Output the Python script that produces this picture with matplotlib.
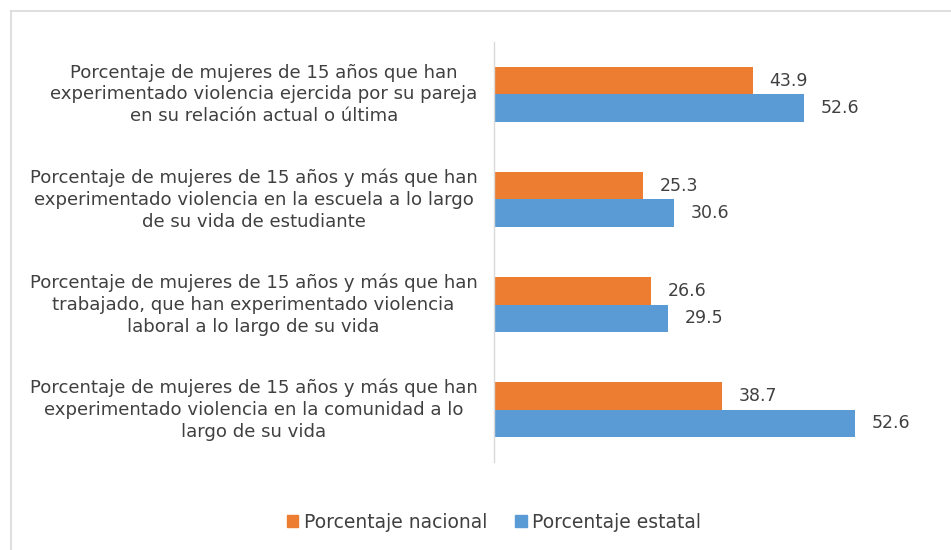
import matplotlib
matplotlib.use("Agg")
import matplotlib.pyplot as plt
from matplotlib.lines import Line2D
from matplotlib.patches import Patch
import numpy as np

plt.rcParams["font.family"] = ["DejaVu Sans"]

ORANGE = "#ED7D31"
BLUE = "#5B9BD5"
TXT = "#404040"

categories = [
    "Porcentaje de mujeres de 15 años que han\nexperimentado violencia ejercida por su pareja\nen su relación actual o última",
    "Porcentaje de mujeres de 15 años y más que han\nexperimentado violencia en la escuela a lo largo\nde su vida de estudiante",
    "Porcentaje de mujeres de 15 años y más que han\ntrabajado, que han experimentado violencia\nlaboral a lo largo de su vida",
    "Porcentaje de mujeres de 15 años y más que han\nexperimentado violencia en la comunidad a lo\nlargo de su vida",
]
nacional = [43.9, 25.3, 26.6, 38.7]
# bar lengths as drawn in the picture (last blue bar is longer than its label)
estatal = [52.6, 30.6, 29.5, 61.2]
nacional_labels = ["43.9", "25.3", "26.6", "38.7"]
estatal_labels = ["52.6", "30.6", "29.5", "52.6"]

fig = plt.figure(figsize=(9.51, 5.5), dpi=100)
ax = fig.add_axes([494 / 951, 1 - 462 / 550, 442 / 951, 420 / 550])

y = np.arange(len(categories))
h = 0.26
ax.barh(y - h / 2, nacional, h, color=ORANGE, label="Porcentaje nacional")
ax.barh(y + h / 2, estatal, h, color=BLUE, label="Porcentaje estatal")

for yi, v, t in zip(y, nacional, nacional_labels):
    ax.annotate(t, (v, yi - h / 2), xytext=(12, 0), textcoords="offset points",
                ha="left", va="center", fontsize=12.5, color=TXT)
for yi, v, t in zip(y, estatal, estatal_labels):
    ax.annotate(t, (v, yi + h / 2), xytext=(12, 0), textcoords="offset points",
                ha="left", va="center", fontsize=12.5, color=TXT)

ax.set_xlim(0, 75)
ax.set_ylim(len(categories) - 0.5, -0.5)
ax.set_xticks([])
ax.set_yticks([])
for s in ["top", "right", "bottom"]:
    ax.spines[s].set_visible(False)
ax.spines["left"].set_color("#D9D9D9")
ax.spines["left"].set_linewidth(1.0)

for yi, c in zip(y, categories):
    ax.annotate(c, (0, yi), xytext=(-12, 0), textcoords="offset points",
                ha="right", va="center", multialignment="center",
                fontsize=13.1, color=TXT, linespacing=1.27)

handles = [Patch(color=ORANGE), Patch(color=BLUE)]
fig.legend(handles, ["Porcentaje nacional", "Porcentaje estatal"],
           loc="center", bbox_to_anchor=(494 / 951, 1 - 522 / 550), ncol=2,
           frameon=False, fontsize=13.5, labelcolor=TXT,
           handlelength=0.6, handleheight=0.6, handletextpad=0.3,
           columnspacing=1.5)

# light chart-area border (left and top only visible)
fig.add_artist(Line2D([11 / 951, 11 / 951], [0, 1 - 11 / 550],
                      transform=fig.transFigure, color="#D9D9D9", lw=1.2))
fig.add_artist(Line2D([11 / 951, 1], [1 - 11 / 550, 1 - 11 / 550],
                      transform=fig.transFigure, color="#D9D9D9", lw=1.2))

fig.savefig("out.png", dpi=100, facecolor="white")
